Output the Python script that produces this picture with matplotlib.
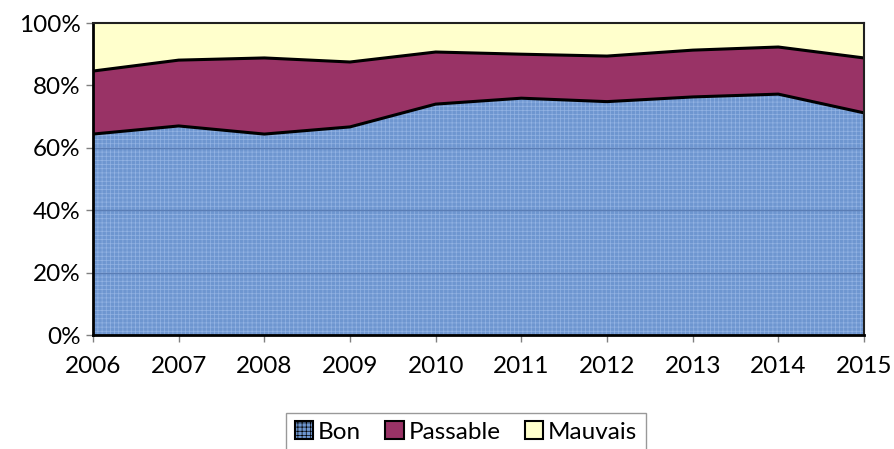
import matplotlib
matplotlib.use("Agg")
import matplotlib.pyplot as plt
import numpy as np

years = [2006, 2007, 2008, 2009, 2010, 2011, 2012, 2013, 2014, 2015]
bon = [64.4, 67.0, 64.4, 66.7, 74.0, 75.9, 74.8, 76.3, 77.2, 71.2]
passable = [20.2, 21.1, 24.4, 20.8, 16.7, 14.1, 14.6, 15.0, 15.1, 17.6]
mauvais = [100 - b - p for b, p in zip(bon, passable)]
series_names = ["Bon", "Passable", "Mauvais"]
ytick_labels = ["0%", "20%", "40%", "60%", "80%", "100%"]

plt.rcParams['font.family'] = ['Lato', 'DejaVu Sans']
plt.rcParams['hatch.linewidth'] = 0.5
plt.rcParams['hatch.color'] = '#93b3e3'

fig = plt.figure(figsize=(8.94, 4.49), dpi=100)
ax = fig.add_axes([93/894, 1 - 335/449, (864 - 93)/894, (335 - 23)/449])

x = np.array(years)
b = np.array(bon)
p = b + np.array(passable)
m = p + np.array(mauvais)

poly_b = ax.fill_between(x, 0, b, facecolor='#6e96d0', edgecolor='none', hatch='++++', zorder=1)
ax.fill_between(x, b, p, facecolor='#993366', edgecolor='none', zorder=1)
ax.fill_between(x, p, m, facecolor='#ffffcc', edgecolor='none', zorder=1)
ax.plot(x, b, color='black', lw=2.2, zorder=3, solid_joinstyle='round')
ax.plot(x, p, color='black', lw=2.2, zorder=3, solid_joinstyle='round')

# gridlines, visible through the Bon area only
for yv in [20, 40, 60, 80]:
    ln, = ax.plot([years[0], years[-1]], [yv, yv], color='#5a7db5', lw=1.0, zorder=2)
    ln.set_clip_path(poly_b.get_paths()[0], ax.transData)

ax.set_xlim(years[0], years[-1])
ax.set_ylim(0, 100)
ax.set_yticks(np.arange(0, 101, 20))
ax.set_yticklabels(ytick_labels)
ax.set_xticks(years)
ax.set_xticklabels([str(y) for y in years])
ax.tick_params(axis='both', labelsize=17.5, length=5, width=1, color='#808080', pad=4)
ax.tick_params(axis='x', pad=10)

for s in ['left', 'bottom']:
    ax.spines[s].set_linewidth(2)
    ax.spines[s].set_color('black')
for s in ['top', 'right']:
    ax.spines[s].set_linewidth(1.5)
    ax.spines[s].set_color('#202020')
for s in ax.spines.values():
    s.set_zorder(4)

from matplotlib.patches import Patch
handles = [
    Patch(facecolor='#6e96d0', edgecolor='black', hatch='++++', lw=1.5),
    Patch(facecolor='#993366', edgecolor='black', lw=1.5),
    Patch(facecolor='#ffffcc', edgecolor='black', lw=1.5),
]
leg = fig.legend(handles, series_names, loc='center',
                 bbox_to_anchor=(466/894, 1 - 432/449), ncol=3, fontsize=17.5,
                 frameon=True, fancybox=False, edgecolor='#808080',
                 handlelength=0.75, handleheight=0.75, handletextpad=0.2,
                 columnspacing=1.0, borderpad=0.35)
leg.get_frame().set_linewidth(1)

fig.savefig('out.png', dpi=100)
